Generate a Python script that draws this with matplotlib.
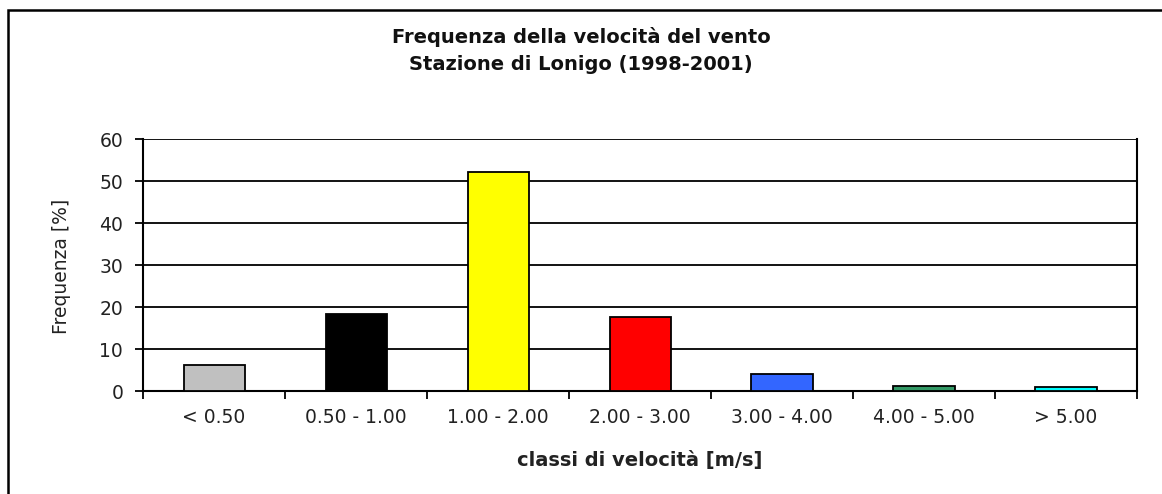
import matplotlib.pyplot as plt
from matplotlib.patches import Rectangle

# wind speed classes and frequencies
classes = ['< 0.50', '0.50 - 1.00', '1.00 - 2.00', '2.00 - 3.00',
           '3.00 - 4.00', '4.00 - 5.00', '> 5.00']
freq = [6.2, 18.3, 52.1, 17.7, 4.0, 1.3, 0.9]
colors = ['#C0C0C0', '#000000', '#FFFF00', '#FF0000', '#3366FF', '#339966', '#00FFFF']
yticks = [0, 10, 20, 30, 40, 50, 60]

plt.rcParams['font.family'] = ['DejaVu Sans']

fig = plt.figure(figsize=(11.62, 4.94), dpi=100)
ax = fig.add_axes([0.1231, 0.2085, 0.8554, 0.5101])

x = list(range(len(classes)))
ax.bar(x, freq, width=0.43, color=colors, edgecolor='black', linewidth=1.3, zorder=3)

ax.set_xlim(-0.5, len(classes) - 0.5)
ax.set_ylim(0, 60)
ax.set_yticks(yticks)
ax.yaxis.grid(True, color='black', linewidth=1.3, zorder=0)

# boundary ticks without labels, labels centred on bars
ax.set_xticks([i - 0.5 for i in range(len(classes) + 1)])
ax.set_xticklabels([])
ax.set_xticks(x, minor=True)
ax.set_xticklabels(classes, minor=True, fontsize=13.5, color='#222222')
ax.tick_params(axis='x', which='major', length=5.8, width=1.3, direction='out')
ax.tick_params(axis='x', which='minor', length=0, pad=12)
ax.tick_params(axis='y', length=5.8, width=1.3, direction='out', pad=8.5,
               labelsize=13.5, labelcolor='#222222')

for side in ['left', 'bottom', 'right']:
    ax.spines[side].set_linewidth(1.5)
ax.spines['top'].set_visible(False)

fig.text(0.5508, 0.0688, 'classi di velocità [m/s]', ha='center', va='center',
         fontsize=14, fontweight='bold', color='#222222')
fig.text(0.0525, 0.4615, 'Frequenza [%]', rotation=90, ha='center', va='center',
         fontsize=13.5, color='#222222')

fig.text(0.5, 0.925, 'Frequenza della velocità del vento', ha='center', va='center',
         fontsize=14, fontweight='bold', color='#111111')
fig.text(0.5, 0.87, 'Stazione di Lonigo (1998-2001)', ha='center', va='center',
         fontsize=14, fontweight='bold', color='#111111')

# outer frame around the whole chart (cropped at right and bottom)
fig.patches.append(Rectangle((8 / 1162, -0.1), 1.1, 0.1 + 1 - 10 / 494,
                             transform=fig.transFigure, fill=False,
                             edgecolor='black', linewidth=1.8))

plt.savefig('out.png', dpi=100)
